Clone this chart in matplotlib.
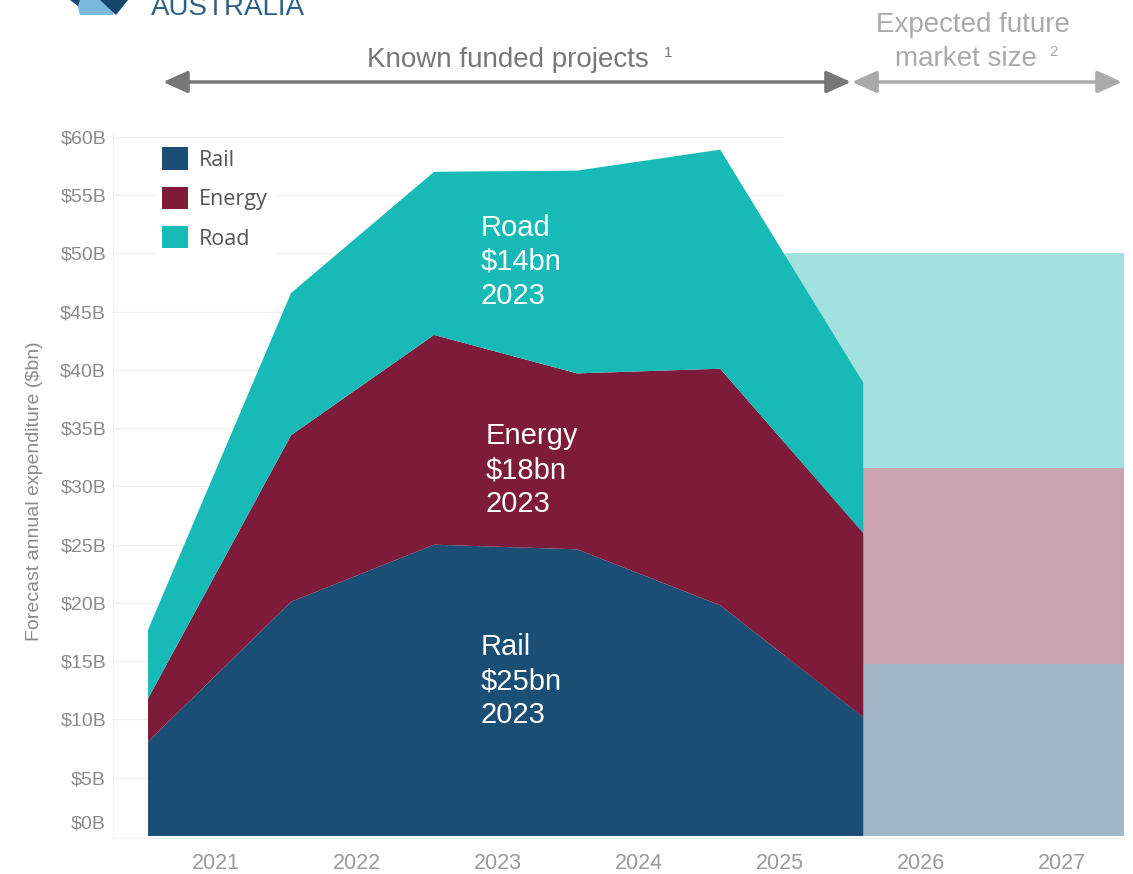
import numpy as np
import matplotlib.pyplot as plt
from matplotlib.patches import Patch, Polygon, FancyArrowPatch
from matplotlib.transforms import ScaledTranslation

# Forecast spend per sector (stacked), $bn
data_years = ['2021', '2022', '2023', '2024', '2025', '2026']
rail = [8.1, 20.1, 25.0, 24.6, 19.8, 10.2]
energy = [3.7, 14.3, 18.0, 15.1, 20.3, 15.8]
road = [5.9, 12.2, 14.0, 17.4, 18.8, 12.9]

# Expected future market size per sector, $bn
future_rail = 14.8
future_energy = 16.8
future_road = 18.4

tick_labels = ['2021', '2022', '2023', '2024', '2025', '2026', '2027']
y_ticks = list(range(0, 65, 5))

dark = {'Rail': '#1a4e75', 'Energy': '#7e1a3a', 'Road': '#17bab6'}
light = {'Rail': '#a2b8c9', 'Energy': '#cba2b0', 'Road': '#a1e2e0'}

W, H = 1133, 874


def fx(px):
    return px / W


def fy(py):
    return 1 - py / H


sans = 'Liberation Sans'

fig = plt.figure(figsize=(W / 100, H / 100), dpi=100)
ax = fig.add_axes([fx(113), fy(838), fx(1125) - fx(113), fy(131) - fy(838)])

x = np.arange(len(data_years))

# light background blocks for the expected future market
future_x = [4.45, 6.82]
ax.stackplot(future_x, [future_rail] * 2, [future_energy] * 2, [future_road] * 2,
             colors=[light['Rail'], light['Energy'], light['Road']], lw=0, zorder=1)

ax.stackplot(x, rail, energy, road,
             colors=[dark['Rail'], dark['Energy'], dark['Road']], lw=0, zorder=2)

# faint horizontal grid
ax.hlines(y_ticks[1:], -0.245, 4.44, colors='#f0f0f0', lw=1, zorder=0)

ax.set_xlim(-0.245, 6.83)
ax.set_ylim(-0.17, 60.5)

ax.set_yticks(y_ticks)
ax.set_yticklabels(['$%dB' % v for v in y_ticks], family=sans,
                   fontsize=14, color='#8a8a8a')
ax.tick_params(axis='y', length=0, pad=5)
# lift the zero label clear of the baseline
zero_lab = ax.get_yticklabels()[0]
zero_lab.set_transform(zero_lab.get_transform()
                       + ScaledTranslation(0, 14 / 100, fig.dpi_scale_trans))

tick_pos = 0.476 + 0.986 * np.arange(len(tick_labels))
ax.set_xticks(tick_pos)
ax.set_xticklabels(tick_labels, family=sans, fontsize=15.5, color='#9a9a9a')
ax.tick_params(axis='x', length=0, pad=11)

for side in ['top', 'right']:
    ax.spines[side].set_visible(False)
for side in ['left', 'bottom']:
    ax.spines[side].set_color('#f0f0f0')

fig.text(fx(35), fy(491), 'Forecast annual expenditure ($bn)', rotation=90,
         ha='center', va='center', family=sans, fontsize=14, color='#8a8a8a')

handles = [Patch(facecolor=dark[k], edgecolor='none') for k in ['Rail', 'Energy', 'Road']]
leg = ax.legend(handles, ['Rail', 'Energy', 'Road'], loc='upper left',
                bbox_to_anchor=(fx(156), fy(141)), bbox_transform=fig.transFigure,
                frameon=True, fancybox=False, facecolor='white', edgecolor='none',
                framealpha=1, prop={'family': 'Open Sans', 'size': 15.5},
                handlelength=1.2, handleheight=1.2, handletextpad=0.5,
                labelspacing=0.75, borderpad=0.3, borderaxespad=0)
for t in leg.get_texts():
    t.set_color('#555555')
leg.set_zorder(5)

# sector labels for 2023
lab_font = dict(family=sans, fontsize=21, color='white',
                va='top', ha='left', linespacing=1.27, zorder=6)
ax.text(2.325, 53.4, 'Road\n$%dbn\n2023' % road[2], **lab_font)
ax.text(2.36, 35.5, 'Energy\n$%dbn\n2023' % energy[2], **lab_font)
ax.text(2.325, 17.4, 'Rail\n$%dbn\n2023' % rail[2], **lab_font)

# period annotations across the top
fig.text(fx(508), fy(67), 'Known funded projects', ha='center', va='baseline',
         family=sans, fontsize=20, color='#777777')
fig.text(fx(668), fy(57), '1', ha='center', va='baseline',
         family=sans, fontsize=11, color='#777777')
fig.text(fx(973), fy(32), 'Expected future', ha='center', va='baseline',
         family=sans, fontsize=20, color='#aaaaaa')
fig.text(fx(966), fy(66), 'market size', ha='center', va='baseline',
         family=sans, fontsize=20, color='#aaaaaa')
fig.text(fx(1053), fy(56), '2', ha='center', va='baseline',
         family=sans, fontsize=11, color='#aaaaaa')

fig.add_artist(FancyArrowPatch((fx(163), fy(82)), (fx(851), fy(82)),
                               transform=fig.transFigure,
                               arrowstyle='<|-|>,head_length=1.0,head_width=0.45',
                               mutation_scale=15, lw=2.5, color='#777777',
                               shrinkA=0, shrinkB=0))
fig.add_artist(FancyArrowPatch((fx(852), fy(82)), (fx(1122), fy(82)),
                               transform=fig.transFigure,
                               arrowstyle='<|-|>,head_length=1.0,head_width=0.45',
                               mutation_scale=15, lw=2.5, color='#aaaaaa',
                               shrinkA=0, shrinkB=0))

# logo fragment at the top edge
fig.text(fx(151), fy(15), 'AUSTRALIA', ha='left', va='baseline',
         family=sans, fontsize=20, color='#2f5f86')
for pts, col in [([(76, 0), (118, 0), (113, 15), (80, 15)], '#7bb8dc'),
                 ([(100, 0), (128, 0), (116, 15)], '#14466e'),
                 ([(70, 0), (80, 0), (78, 6)], '#14466e')]:
    fig.add_artist(Polygon([(fx(a), fy(b)) for a, b in pts], closed=True,
                           transform=fig.transFigure, facecolor=col,
                           edgecolor='none'))

fig.savefig('out.png', dpi=100)
